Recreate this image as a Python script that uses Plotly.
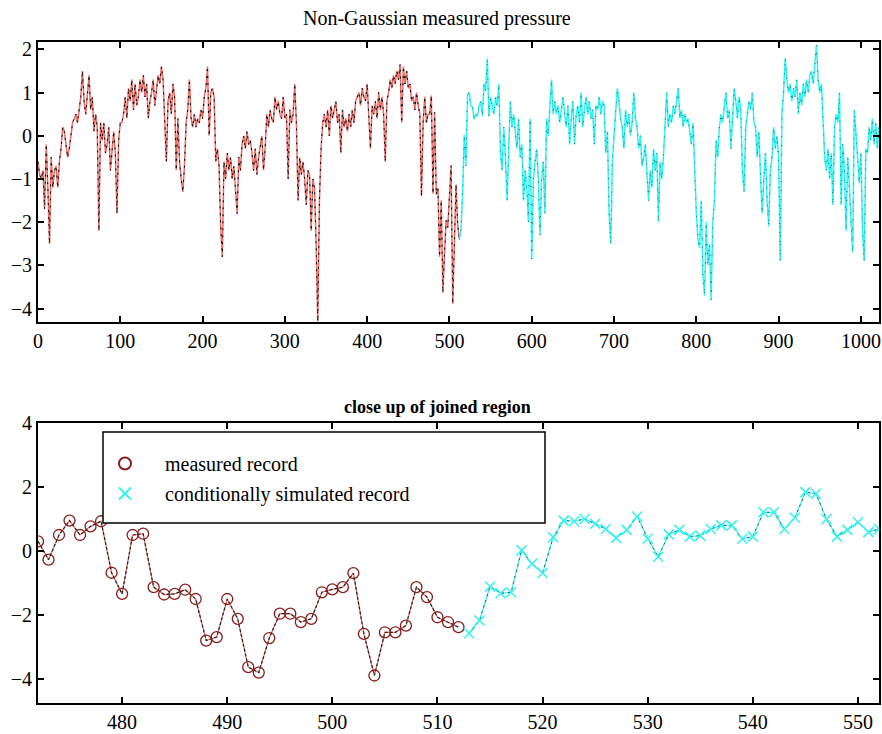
import plotly.graph_objects as go

# ---------------- data ----------------
# top panel: measured record (sample index 0..512, every 2nd sample)
measured_top = [
    -0.6, -0.9, -1.0, -0.8, -1.7,
    -0.2, -1.2, -2.5, -0.5, -1.2,
    -0.8, -0.7, -1.2, -0.6, -0.3,
    0.2, 0.1, -0.2, -0.5, -0.3,
    0.0, 0.3, 0.4, 0.5, 0.3,
    0.6, 0.9, 1.5, 0.8, 0.5,
    1.0, 1.4, 0.6, 0.9, 0.1,
    0.5, 0.2, -2.2, 0.3, -0.1,
    0.3, -0.4, -0.2, 0.2, -0.8,
    -0.3, 0.1, -0.4, -1.8, -0.1,
    0.3, 0.3, 0.5, 0.9, 0.4,
    1.1, 0.8, 1.3, 0.6, 1.2,
    0.7, 0.9, 1.3, 1.0, 1.4,
    0.9, 1.2, 0.4, 0.8, 1.0,
    1.3, 0.7, 1.1, 1.4, 1.2,
    1.6, 1.3, 0.3, -0.6, 0.8,
    1.0, 0.5, 1.2, 0.9, -0.8,
    0.4, -0.6, -1.0, -1.3, -0.7,
    0.3, 0.6, 1.3, 0.4, 0.2,
    0.5, 0.2, 0.4, 0.3, 0.6,
    0.4, 0.9, 1.1, 1.6, 0.0,
    1.0, 1.1, 0.9, -0.6, -0.3,
    -0.7, -2.1, -2.8, -0.6, -1.0,
    -0.4, -0.8, -0.5, -1.0, -0.7,
    -1.2, -1.8, -0.5, -0.8, -0.2,
    0.0, -0.3, 0.1, -0.2, -0.1,
    -0.4, -0.8, -0.3, -0.9, -0.5,
    -0.2, 0.0, -0.8, -0.3, 0.5,
    0.2, 0.6, 0.4, 0.3, 0.9,
    0.6, 0.8, 0.5, 0.4, 0.9,
    0.4, 0.5, -1.0, 0.6, 0.3,
    0.5, 1.2, 0.3, -1.5, -0.5,
    -0.9, -0.6, -1.0, -1.6, -0.8,
    -0.9, -2.2, -1.0, -1.2, -2.5,
    -4.3, -1.5, -0.3, 0.3, 0.5,
    0.2, 0.6, 0.0, 0.7, 0.4,
    0.6, 0.8, 0.3, 0.5, -0.4,
    0.6, 0.2, 0.4, 0.1, 0.5,
    0.2, 0.6, 0.3, 0.8, 0.9,
    1.0, 0.7, 1.1, 0.9, 0.8,
    1.2, 0.5, -0.3, 0.7, 0.5,
    0.8, 0.4, 1.0, 0.6, 0.9,
    0.5, -0.6, 0.8, 1.0, 1.3,
    1.1, 1.4, 1.2, 1.5, 1.3,
    1.65, 0.3, 1.6, 1.2, 1.5,
    1.1, 1.2, 0.8, 0.9, 0.6,
    1.0, 0.7, 0.5, -1.4, 0.3,
    0.9, 0.3, 0.5, 0.5, 0.93,
    -1.34, 0.54, -1.36, -1.21, -2.8,
    -1.5, -3.63, -2.72, -1.96, -2.12,
    -1.2, -0.69, -3.89, -2.54, -1.13,
    -2.07, -2.38,
]
measured_top_x = list(range(0, 513, 2))

# top panel: conditionally simulated record (sample index 512..1022, every 2nd sample)
simulated_top = [
    -2.4, -2.17, -1.32, 0.02,
    -0.69, 0.95, 1.0, 0.69, 0.66,
    0.38, 0.5, 0.45, 0.69, 0.8,
    0.45, 1.21, 1.04, 1.79, 0.45,
    0.9, 0.69, 0.5, 0.9, 0.7,
    1.2, -0.4, -0.8, 0.2, -0.5,
    -1.5, -0.3, 0.8, 0.2, 0.5,
    0.1, -0.3, 0.4, -0.5, -0.2,
    -1.5, -0.8, -1.2, -2.0, 0.4,
    -2.85, -1.0, -0.6, -0.3, -1.0,
    -2.3, -1.0, -0.6, -1.8, 0.4,
    0.0, 0.6, 1.3, 0.5, 0.8,
    0.5, 0.7, 0.3, 0.6, 0.9,
    0.5, 0.2, 0.7, -0.2, 0.4,
    0.8, -0.2, 0.5, 0.7, 0.3,
    1.0, 0.2, 0.6, 0.9, 0.5,
    0.8, 0.4, 0.6, -0.2, 0.7,
    0.6, 0.9, 0.5, 0.8, 0.7,
    -0.4, 0.1, -1.8, -2.5, -0.6,
    0.0, 0.6, 1.1, 0.8, 0.4,
    0.2, -0.3, 0.6, 0.2, 0.5,
    0.0, 0.3, 1.0, 0.4, 0.2,
    -0.3, 0.0, -0.7, -0.5, -0.2,
    -1.0, -1.5, -0.8, -1.2, -0.3,
    -0.8, -0.4, -2.0, -0.6, -1.0,
    -0.5, 0.3, 1.0, 0.2, 0.5,
    0.3, 0.7, 0.5, 0.8, 1.1,
    0.4, 0.6, 0.2, 0.5, 0.3,
    0.4, 0.1, -0.2, 0.3, -1.0,
    -1.8, -2.4, -2.6, -1.5, -3.2,
    -3.7, -2.0, -3.0, -2.5, -3.8,
    -2.0, -1.5, -0.1, -0.5, 0.2,
    0.5, 0.3, 0.7, 1.0, 0.4,
    0.6, -0.3, 0.5, 1.1, 0.8,
    0.4, 0.9, 0.6, -0.8, -1.3,
    0.2, 0.5, 0.8, 0.6, 1.0,
    0.3, 0.2, -0.5, 0.1, -0.9,
    -1.8, -1.0, -0.4, -1.5, -2.1,
    -0.8, -0.5, 0.2, -0.3, 0.0,
    -0.5, -2.9, 0.5, 1.0, 1.8,
    1.3, 1.0, 1.2, 0.8, 1.1,
    0.9, 1.3, 0.5, 1.0, 0.7,
    1.2, 0.9, 1.3, 1.0, 1.4,
    1.5, 1.2, 1.6, 2.1, 1.3,
    1.0, 1.2, 0.4, -0.5, -0.8,
    -0.3, -1.0, -0.4, -1.6, 0.2,
    0.5, 0.3, 1.0, -1.6, -0.2,
    -0.8, -2.2, -0.5, -1.2, -1.9,
    -2.7, 0.6, -0.1, -0.5, -1.1,
    -0.4, -2.2, -2.9, -0.3, -0.4,
    0.2, -0.1, 0.4, -0.2, 0.3,
    -0.3, 0.2,
]
simulated_top_x = list(range(512, 1023, 2))

# bottom panel: close up of the joined region (every sample)
measured_close_x = list(range(472, 513))
measured_close = [
    0.3, -0.27, 0.5, 0.95, 0.5, 0.77, 0.93, -0.68, -1.34, 0.5,
    0.54, -1.13, -1.36, -1.34, -1.21, -1.5, -2.8, -2.69, -1.5, -2.12,
    -3.63, -3.8, -2.72, -1.96, -1.96, -2.22, -2.12, -1.29, -1.2, -1.13,
    -0.69, -2.59, -3.89, -2.54, -2.54, -2.33, -1.13, -1.44, -2.07, -2.22,
    -2.38,
]
simulated_close_x = list(range(513, 553))
simulated_close = [
    -2.57, -2.17, -1.11, -1.32, -1.29, 0.02, -0.4, -0.69, 0.43, 0.95,
    0.93, 1.0, 0.85, 0.69, 0.41, 0.66, 1.08, 0.38, -0.18, 0.52,
    0.66, 0.45, 0.48, 0.69, 0.8, 0.8, 0.38, 0.45, 1.21, 1.21,
    0.69, 1.04, 1.84, 1.79, 1.0, 0.45, 0.66, 0.9, 0.59, 0.69,
]

top_xticks = [0, 100, 200, 300, 400, 500, 600, 700, 800, 900, 1000]
top_yticks = [-4, -3, -2, -1, 0, 1, 2]
bot_xticks = [480, 490, 500, 510, 520, 530, 540, 550]
bot_yticks = [-4, -2, 0, 2, 4]

title_top = "Non-Gaussian measured pressure"
title_bot = "close up of joined region"
legend_labels = ["measured record", "conditionally simulated record"]

# ---------------- styling ----------------
FONT = "Liberation Serif"
RED = "#e8706c"
DARKRED = "#8a1c1c"
CYAN = "#33f2f2"
TEAL = "#0b5a5a"

fig = go.Figure()

# top panel
fig.add_trace(go.Scatter(x=measured_top_x, y=measured_top, mode="lines",
                         line=dict(color=RED, width=1.5), showlegend=False,
                         xaxis="x", yaxis="y"))
fig.add_trace(go.Scatter(x=measured_top_x, y=measured_top, mode="lines",
                         line=dict(color="black", width=1, dash="2px,5px"),
                         showlegend=False, xaxis="x", yaxis="y"))
fig.add_trace(go.Scatter(x=simulated_top_x, y=simulated_top, mode="lines",
                         line=dict(color=CYAN, width=1.5), showlegend=False,
                         xaxis="x", yaxis="y"))
fig.add_trace(go.Scatter(x=simulated_top_x, y=simulated_top, mode="lines",
                         line=dict(color=TEAL, width=0.9, dash="1px,8px"),
                         showlegend=False, xaxis="x", yaxis="y"))

# bottom panel
fig.add_trace(go.Scatter(x=measured_close_x, y=measured_close, mode="lines",
                         line=dict(color=RED, width=1.2), showlegend=False,
                         xaxis="x2", yaxis="y2"))
fig.add_trace(go.Scatter(x=measured_close_x, y=measured_close, mode="lines+markers",
                         line=dict(color="#222222", width=1.2, dash="3px,2px"),
                         marker=dict(symbol="circle-open", size=11, color=DARKRED,
                                     line=dict(width=1.3, color=DARKRED)),
                         showlegend=False, xaxis="x2", yaxis="y2"))
fig.add_trace(go.Scatter(x=simulated_close_x, y=simulated_close, mode="lines",
                         line=dict(color=CYAN, width=1.2), showlegend=False,
                         xaxis="x2", yaxis="y2"))
fig.add_trace(go.Scatter(x=simulated_close_x, y=simulated_close, mode="lines+markers",
                         line=dict(color=TEAL, width=1, dash="2px,4px"),
                         marker=dict(symbol="x-thin-open", size=10, color=CYAN,
                                     line=dict(width=1.5, color=CYAN)),
                         showlegend=False, xaxis="x2", yaxis="y2"))

# legend-only entries
fig.add_trace(go.Scatter(x=[None], y=[None], mode="markers", name=legend_labels[0],
                         legendgroup="a",
                         marker=dict(symbol="circle-open", size=11, color=DARKRED,
                                     line=dict(width=1.3, color=DARKRED)),
                         xaxis="x2", yaxis="y2"))
fig.add_trace(go.Scatter(x=[None], y=[None], mode="markers", name=legend_labels[1],
                         legendgroup="b",
                         marker=dict(symbol="x-thin-open", size=10, color=CYAN,
                                     line=dict(width=1.5, color=CYAN)),
                         xaxis="x2", yaxis="y2"))

W, H = 882, 734
ML, MR, MT, MB = 38, W - 879, 42, H - 703
PW, PH = W - ML - MR, H - MT - MB


def py(sy):  # screen y -> paper y
    return (H - MB - sy) / PH


def px(sx):  # screen x -> paper x
    return (sx - ML) / PW


axis_common = dict(showline=True, linecolor="black", linewidth=2, mirror="ticks",
                   ticks="inside", ticklen=6, tickwidth=2, tickcolor="black",
                   showgrid=False, zeroline=False, automargin=False,
                   tickfont=dict(family=FONT, size=20, color="black"))

fig.update_layout(
    width=W, height=H,
    margin=dict(l=ML, r=MR, t=MT, b=MB, autoexpand=False),
    paper_bgcolor="white", plot_bgcolor="white",
    font=dict(family=FONT, color="black"),
    xaxis=dict(domain=[0, 1], range=[0, 1022], tickvals=top_xticks, anchor="y",
               **axis_common),
    yaxis=dict(domain=[py(322), 1], range=[-4.31, 2.17], tickvals=top_yticks,
               anchor="x", **axis_common),
    xaxis2=dict(domain=[0, 1], range=[472, 552], tickvals=bot_xticks, anchor="y2",
                **axis_common),
    yaxis2=dict(domain=[0, py(423)], range=[-4.75, 4], tickvals=bot_yticks,
                anchor="x2", **axis_common),
    showlegend=True,
    legend=dict(x=px(85), y=py(444), xanchor="left", yanchor="top",
                bgcolor="rgba(0,0,0,0)", borderwidth=0,
                font=dict(family=FONT, size=20, color="black"),
                itemwidth=70, itemsizing="constant", tracegroupgap=1,
                traceorder="grouped"),
    shapes=[dict(type="rect", xref="paper", yref="paper",
                 x0=px(103), x1=px(545), y0=py(523), y1=py(432),
                 line=dict(color="black", width=1.5), fillcolor="white",
                 layer="above")],
    annotations=[
        dict(text=title_top, xref="paper", yref="paper", x=px(437), y=py(18),
             xanchor="center", yanchor="middle", showarrow=False,
             font=dict(family=FONT, size=20, color="black")),
        dict(text="<b>" + title_bot + "</b>", xref="paper", yref="paper",
             x=px(437), y=py(407), xanchor="center", yanchor="middle",
             showarrow=False, font=dict(family=FONT, size=18, color="black")),
    ],
)

fig.write_html(
    "out.html",
    config={"displayModeBar": False},
    post_script="document.body.style.margin='0';"
                "document.documentElement.style.overflow='hidden';"
                "document.body.style.overflow='hidden';",
)
